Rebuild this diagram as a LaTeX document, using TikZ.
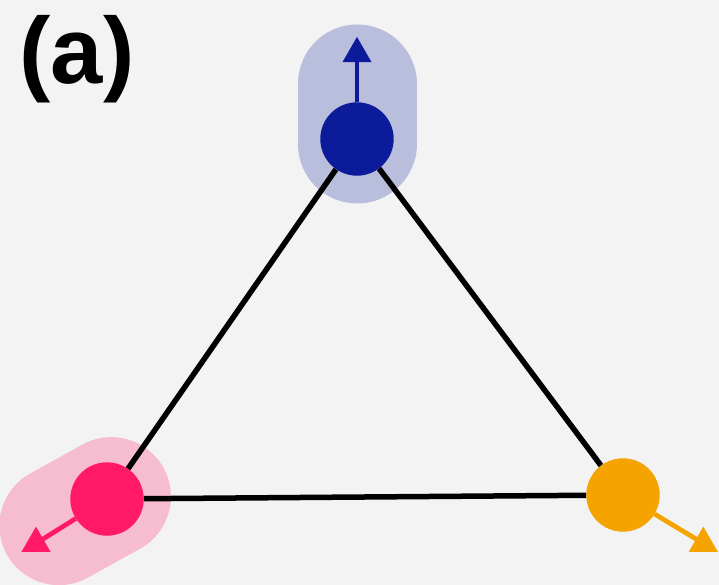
\documentclass[tikz,border=0pt]{standalone}
\usepackage{fontspec}
\newfontfamily\labelfont{Liberation Sans}
\usetikzlibrary{calc,shapes.geometric}

\definecolor{hgrau}{HTML}{F3F3F3}
\definecolor{blau}{HTML}{0B1B9A}
\definecolor{hofblau}{HTML}{B9BEDD}
\definecolor{rosa}{HTML}{FF1966}
\definecolor{hofrosa}{HTML}{F6BCD0}
\definecolor{orange}{HTML}{F4A300}

\begin{document}
\begin{tikzpicture}[x=1pt, y=1pt, % 1 Einheit = 1 Pixel
  spin/.style={circle, fill=#1, minimum size=73.4pt, inner sep=0pt},
  spitze/.style={regular polygon, regular polygon sides=3, fill=#1, minimum size=33.5pt, inner sep=0pt},
  kante/.style={line width=5.5pt, black},
  pfeil/.style={line width=4.7pt, #1},
  hof/.style={line width=119pt, line cap=round, #1}]

% Hintergrund
  \fill[hgrau] (0,0) rectangle (719,585);
  \useasboundingbox (0,0) rectangle (719,585);

  % Beschriftung oben links
  \node[anchor=base, inner sep=0pt, font=\labelfont\bfseries\fontsize{94}{94}\selectfont] (lbl) at (77,501) {(a)};

  % Positionen der Spins
  \coordinate (b) at (357,446);
  \coordinate (p) at (107,86);
  \coordinate (o) at (623,90);

  % Hoefe um blau und rosa
  \draw[hof=hofblau] ($(b)+(-90:5)$) -- ($(b)+(90:55)$);
  \draw[hof=hofrosa] ($(p)+(29:5)$) -- ($(p)+(209:55)$);

  % Spins
  \node[spin=blau] (blau) at (b) {};
  \node[spin=rosa] (rosa) at (p) {};
  \node[spin=orange] (orng) at (o) {};

  % Dreieck
  \draw[kante] (blau) -- (rosa);
  \draw[kante] (rosa) -- (orng);
  \draw[kante] (orng) -- (blau);

  % Pfeile mit Spitzen
  \node[spitze=blau] (blauspitze) at (357,531.3) {};
  \node[spitze=rosa] (rosaspitze) at (36,41.6) {};
  \node[spitze=orange] (orngspitze) at (703.3,41.6) {};
  \draw[pfeil=blau] (blau) -- (blauspitze.center);
  \draw[pfeil=rosa] (rosa) -- (rosaspitze.center);
  \draw[pfeil=orange] (orng) -- (orngspitze.center);
\end{tikzpicture}
\end{document}
